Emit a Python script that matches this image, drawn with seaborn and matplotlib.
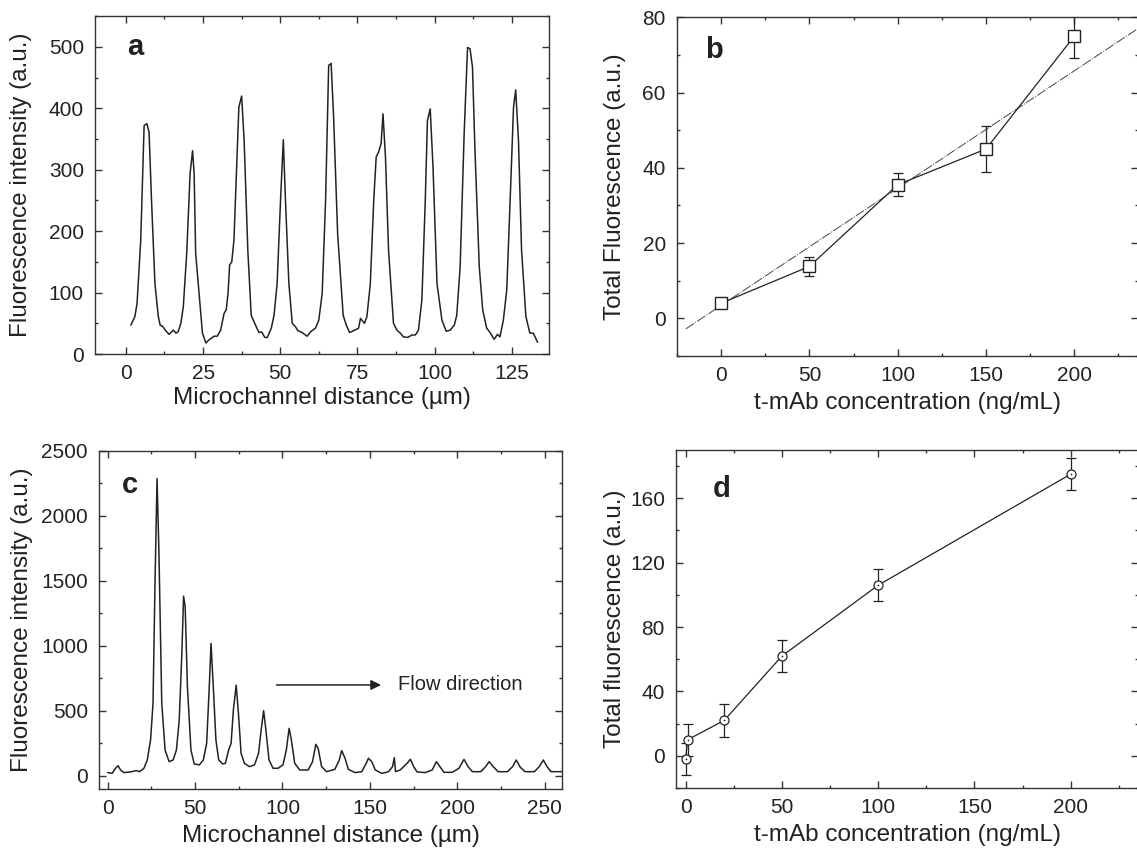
import numpy as np
import pandas as pd
import matplotlib
matplotlib.use("Agg")
import matplotlib.pyplot as plt
from matplotlib.ticker import MultipleLocator
import seaborn as sns

# ---- data ----
# panel a: fluorescence profile along the microchannel
a_dist = [1.6, 2.9, 3.6, 4.8, 5.9, 6.8, 7.5, 8.3, 9.4, 10.5, 11.1, 11.9, 12.9, 14.0, 15.4, 16.2,
          16.9, 17.8, 18.6, 19.7, 20.8, 21.6, 22.1, 22.6, 23.7, 24.8, 25.9, 26.9, 28.6, 29.6, 30.7,
          31.8, 32.5, 33.1, 33.6, 34.3, 35.0, 35.9, 36.6, 37.5, 38.3, 39.5, 40.6, 42.0, 43.1, 44.0,
          45.0, 45.8, 47.1, 48.0, 49.0, 50.1, 51.0, 51.7, 52.8, 53.9, 55.0, 55.7, 57.1, 58.7, 59.8,
          61.4, 62.5, 63.6, 64.7, 65.7, 66.5, 67.3, 68.6, 70.4, 71.4, 72.5, 73.8, 75.4, 76.0, 76.5,
          77.3, 78.1, 79.2, 80.3, 81.1, 81.9, 82.7, 83.3, 84.1, 85.1, 86.7, 87.8, 88.9, 89.9, 91.3,
          92.7, 93.8, 94.8, 95.9, 97.0, 97.7, 98.6, 99.5, 100.8, 102.4, 103.8, 105.1, 106.4, 107.2,
          108.3, 109.6, 110.7, 111.5, 112.3, 113.1, 114.5, 115.6, 116.9, 118.0, 119.3, 120.4, 121.2,
          122.3, 123.4, 124.5, 125.6, 126.3, 127.2, 128.2, 129.6, 130.9, 132.0, 133.4]
a_int = [47, 61, 82, 185, 372, 375, 361, 250, 115, 61, 47, 45, 38, 32, 39, 34,
         36, 50, 77, 164, 294, 331, 294, 164, 99, 34, 18, 23, 29, 29, 39,
         66, 72, 99, 145, 150, 185, 305, 402, 420, 348, 169, 63, 47, 35, 36,
         27, 27, 42, 63, 115, 250, 349, 250, 115, 50, 44, 38, 35, 29, 36,
         42, 55, 99, 250, 470, 473, 386, 196, 63, 47, 35, 38, 42, 58, 55,
         50, 61, 115, 250, 321, 329, 343, 391, 321, 169, 50, 39, 34, 28, 27,
         31, 31, 39, 88, 250, 380, 399, 305, 115, 55, 37, 39, 47, 63,
         142, 359, 499, 497, 467, 332, 142, 72, 42, 35, 24, 32, 28,
         55, 104, 250, 402, 430, 348, 169, 61, 34, 34, 19]

# panel b: calibration with linear fit
b_conc = [0, 50, 100, 150, 200]
b_fluor = [4.0, 13.8, 35.5, 45.0, 75.0]
b_err = [1.0, 2.5, 3.1, 6.1, 5.8]
b_fit_conc = [-20, 236]
b_fit_fluor = [-2.8, 77.0]

# panel c: fluorescence profile, decaying peaks
c_dist = [0, 2.5, 4.4, 5.9, 7.3, 9.2, 13.0, 16.3, 18.2, 20.7, 22.6, 24.5, 25.9, 27.0, 28.2, 29.3,
          30.9, 32.8, 35.1, 37.4, 39.3, 40.9, 42.4, 43.4, 44.3, 45.6, 47.6, 49.5, 52.4, 54.7, 56.6,
          58.1, 59.1, 60.4, 61.9, 63.5, 65.8, 67.3, 69.2, 70.6, 71.9, 73.5, 74.8, 76.3, 78.2, 81.1,
          84.0, 86.3, 87.8, 89.2, 90.3, 92.3, 94.6, 97.4, 100.3, 102.2, 103.8, 105.1, 107.0, 109.9,
          114.7, 117.2, 119.1, 120.4, 122.4, 125.2, 130.0, 132.5, 133.9, 135.8, 137.7, 141.5, 145.4,
          147.9, 149.2, 151.1, 153.1, 156.9, 160.7, 163.0, 164.0, 164.7, 167.4, 171.3, 173.2, 175.1,
          177.0, 181.8, 185.7, 188.1, 190.1, 192.4, 197.2, 201.0, 203.9, 206.2, 208.7, 213.5, 216.3,
          218.3, 220.6, 223.4, 228.8, 231.7, 233.8, 236.1, 238.8, 244.2, 247.0, 249.3, 251.4, 253.7,
          257.6, 260.5]
c_int = [26, 20, 59, 79, 46, 26, 31, 41, 33, 59, 123, 277, 558, 1455, 2287, 1711,
         558, 200, 110, 123, 200, 430, 943, 1383, 1301, 686, 200, 92, 85, 123, 251,
         686, 1019, 686, 277, 123, 92, 97, 200, 251, 507, 699, 481, 174, 97, 72,
         85, 174, 353, 502, 379, 123, 59, 59, 85, 200, 366, 277, 97, 46,
         46, 110, 243, 213, 72, 33, 51, 123, 195, 136, 51, 26, 33,
         97, 136, 110, 46, 20, 33, 72, 141, 33, 46, 97, 128, 72,
         31, 26, 46, 110, 72, 28, 28, 59, 128, 72, 33, 33, 72,
         110, 72, 33, 33, 72, 123, 67, 33, 33, 72, 123, 72, 33,
         33, 33]

# panel d: calibration curve
d_conc = [0, 1, 20, 50, 100, 200]
d_fluor = [-2.0, 10.0, 22.0, 62.0, 106.0, 175.0]
d_err = [10, 10, 10, 10, 10, 10]

sns.set_theme(style="ticks")
plt.rcParams["font.family"] = ["Liberation Sans", "DejaVu Sans"]
plt.rcParams["axes.linewidth"] = 1.0
plt.rcParams["axes.edgecolor"] = "#333333"

ink = "#222222"
label_size = 17.5
fig = plt.figure(figsize=(11.37, 8.51), dpi=100)
ax_a = fig.add_axes([0.0836, 0.584, 0.399, 0.397])
ax_b = fig.add_axes([0.5954, 0.5817, 0.4054, 0.398])
ax_c = fig.add_axes([0.0871, 0.0729, 0.4072, 0.3972])
ax_d = fig.add_axes([0.5946, 0.074, 0.4063, 0.3972])


def style_axes(ax, xmaj, xmin, ymaj, ymin):
    ax.xaxis.set_major_locator(MultipleLocator(xmaj))
    ax.xaxis.set_minor_locator(MultipleLocator(xmin))
    ax.yaxis.set_major_locator(MultipleLocator(ymaj))
    ax.yaxis.set_minor_locator(MultipleLocator(ymin))
    ax.tick_params(which="both", direction="in", top=True, right=True,
                   colors="#333333", labelcolor="#222222", labelsize=15, width=1.0)
    ax.tick_params(which="major", length=5)
    ax.tick_params(axis="y", which="major", pad=8)
    ax.tick_params(axis="x", which="major", pad=7)
    ax.tick_params(which="minor", length=2.5)
    for s in ax.spines.values():
        s.set_visible(True)


# panel a
sns.lineplot(x=a_dist, y=a_int, ax=ax_a, sort=False, estimator=None, color=ink, linewidth=1.1)
ax_a.set_xlim(-10, 137)
ax_a.set_ylim(0, 550)
style_axes(ax_a, 25, 12.5, 100, 50)
ax_a.set_xlabel("Microchannel distance (µm)", fontsize=label_size, color=ink, labelpad=3)
ax_a.set_ylabel("Fluorescence intensity (a.u.)", fontsize=label_size, color=ink, labelpad=12)
ax_a.text(0.07, 0.885, "a", transform=ax_a.transAxes, fontsize=21, fontweight="bold", color=ink)

# panel b
sns.lineplot(x=b_fit_conc, y=b_fit_fluor, ax=ax_b, color="#444444", linewidth=0.7,
             linestyle=(0, (10, 1.5, 1, 1.5)))
ax_b.errorbar(b_conc, b_fluor, yerr=b_err, fmt="none", ecolor=ink, elinewidth=0.9, capsize=3.5,
              capthick=0.9)
sns.lineplot(x=b_conc, y=b_fluor, ax=ax_b, color=ink, linewidth=0.9, marker="s", markersize=8,
             markerfacecolor="white", markeredgecolor=ink, markeredgewidth=1.0)
ax_b.set_xlim(-25, 236)
ax_b.set_ylim(-10, 80)
style_axes(ax_b, 50, 25, 20, 10)
ax_b.set_xlabel("t-mAb concentration (ng/mL)", fontsize=label_size, color=ink, labelpad=5)
ax_b.set_ylabel("Total Fluorescence (a.u.)", fontsize=label_size, color=ink, labelpad=12)
ax_b.text(0.06, 0.88, "b", transform=ax_b.transAxes, fontsize=21, fontweight="bold", color=ink)

# panel c
sns.lineplot(x=c_dist, y=c_int, ax=ax_c, sort=False, estimator=None, color=ink, linewidth=1.1)
ax_c.set_xlim(-5, 260)
ax_c.set_ylim(-100, 2500)
style_axes(ax_c, 50, 25, 500, 250)
ax_c.set_xlabel("Microchannel distance (µm)", fontsize=label_size, color=ink, labelpad=5)
ax_c.set_ylabel("Fluorescence intensity (a.u.)", fontsize=label_size, color=ink, labelpad=6)
ax_c.text(0.05, 0.875, "c", transform=ax_c.transAxes, fontsize=21, fontweight="bold", color=ink)
ax_c.annotate("", xy=(158, 700), xytext=(95, 700),
              arrowprops=dict(arrowstyle="-|>", color=ink, lw=1.1, mutation_scale=15))
ax_c.text(166, 700, "Flow direction", fontsize=14.5, color=ink, va="center")

# panel d
ax_d.errorbar(d_conc, d_fluor, yerr=d_err, fmt="none", ecolor=ink, elinewidth=0.9, capsize=3.5,
              capthick=0.9)
sns.lineplot(x=d_conc, y=d_fluor, ax=ax_d, color=ink, linewidth=0.9, marker="o", markersize=6.5,
             markerfacecolor="white", markeredgecolor=ink, markeredgewidth=0.9)
sns.scatterplot(x=d_conc, y=d_fluor, ax=ax_d, color=ink, s=1.5, linewidth=0, zorder=5)
ax_d.set_xlim(-5, 235)
ax_d.set_ylim(-20, 190)
style_axes(ax_d, 50, 25, 40, 20)
ax_d.set_xlabel("t-mAb concentration (ng/mL)", fontsize=label_size, color=ink, labelpad=5)
ax_d.set_ylabel("Total fluorescence (a.u.)", fontsize=label_size, color=ink, labelpad=3)
ax_d.text(0.08, 0.86, "d", transform=ax_d.transAxes, fontsize=21, fontweight="bold", color=ink)

fig.savefig("out.png", dpi=100)
